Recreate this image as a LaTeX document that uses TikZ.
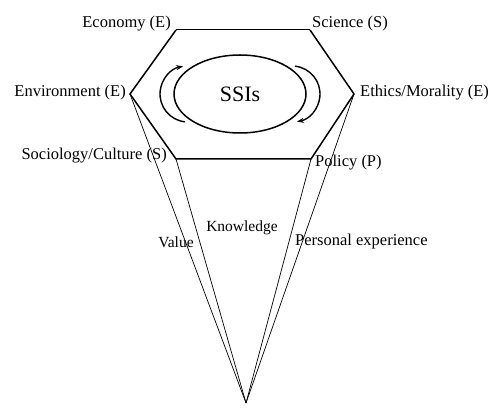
\documentclass[tikz,border=0pt]{standalone}
\usepackage{fontspec}
\setmainfont{Liberation Serif}
\usetikzlibrary{shapes.geometric,arrows.meta,calc}

\begin{document}
\begin{tikzpicture}[x=1pt, y=1pt,
    hexline/.style={line width=1.5pt, line join=miter},
    conline/.style={line width=0.7pt},
    turn/.style={line width=1.4pt, -{Stealth[length=7pt, width=5pt]}},
    lbl/.style={font=\fontsize{16.5}{19}\selectfont, inner sep=0pt}]
                    \useasboundingbox (0,0) rectangle (492,407);
                    \def\rr{28} % radius of the turning arrows
                    \coordinate (E1) at (176, 377);
                    \coordinate (S1) at (310, 377);
                    \coordinate (EM) at (354, 313);
                    \coordinate (P1) at (311, 248);
                    \coordinate (SC) at (176, 248);
                    \coordinate (EN) at (130, 313);
                    \coordinate (V) at (246, 4);

                    % hexagon
                    \draw[line width=1pt] (E1) -- (S1);
                    \draw[hexline] (S1) -- (EM) -- (P1) -- (SC) -- (EN) -- (E1);

                    \foreach \p in {EN, SC, P1, EM}
                    \draw[conline] (\p) -- (V);

                    \node[draw, ellipse, line width=1.5pt, minimum width=132pt,
                          minimum height=78pt, inner sep=0pt,
                          font=\fontsize{22}{26}\selectfont] (ssi) at (240, 313) {SSIs};

                    \draw[turn] ($(ssi.center)+(-52,0)+(264:\rr)$) arc (264:100:\rr);
                    \draw[turn] ($(ssi.center)+(52,0)+(84:\rr)$) arc (84:-80:\rr);

                    \node[lbl, anchor=east] (eco) at (171, 383) {Economy (E)};
                    \node[lbl, anchor=west] (sci) at (312, 383) {Science (S)};
                    \node[lbl, anchor=east] (env) at (126, 314) {Environment (E)};
                    \node[lbl, anchor=west] (eth) at (360, 314) {Ethics/Morality (E)};
                    \node[lbl, anchor=east] (soc) at (167, 251) {Sociology/Culture (S)};
                    \node[lbl, anchor=west] (pol) at (315, 244) {Policy (P)};

                    \node[lbl, font=\fontsize{15.5}{18}\selectfont] (val) at (176, 165) {Value};
                    \node[lbl, font=\fontsize{15.5}{18}\selectfont] (kno) at (242, 179) {Knowledge};
                    \node[lbl, anchor=west] (per) at (295, 165) {Personal experience};
                \end{tikzpicture}
\end{document}
